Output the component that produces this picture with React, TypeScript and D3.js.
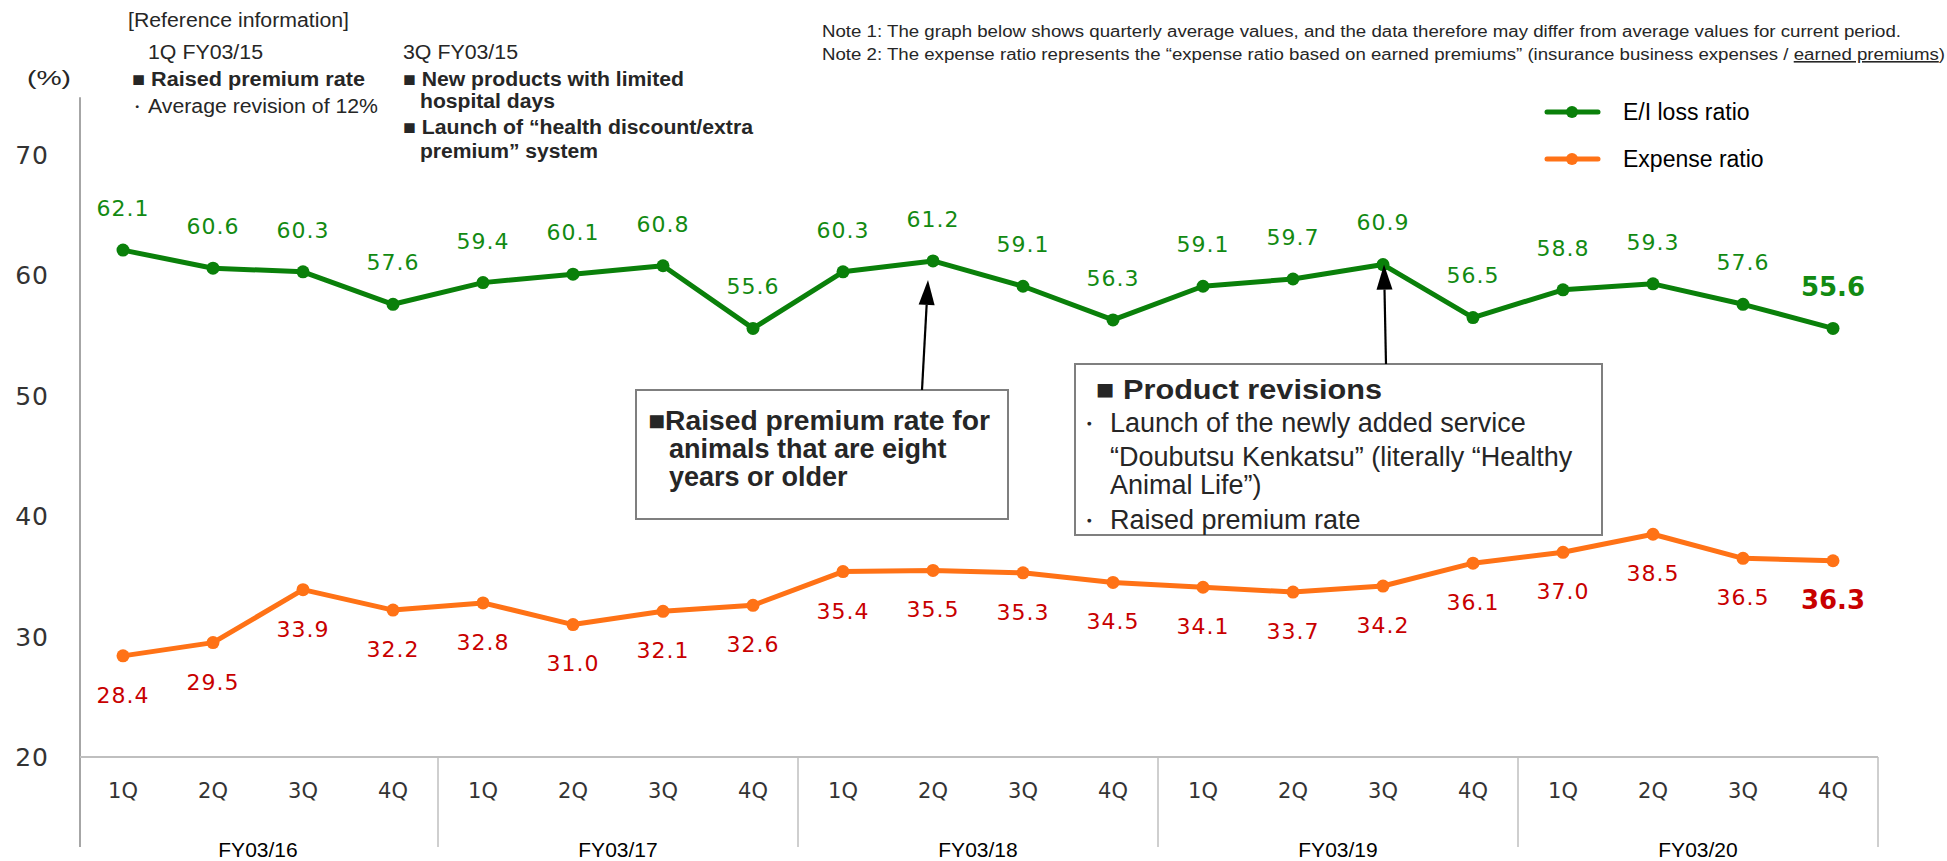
import React from 'react';
import * as d3 from 'd3';

const years = ['FY03/16', 'FY03/17', 'FY03/18', 'FY03/19', 'FY03/20'];
const quarters = ['1Q', '2Q', '3Q', '4Q'];
const lossRatio = [62.1, 60.6, 60.3, 57.6, 59.4, 60.1, 60.8, 55.6, 60.3, 61.2, 59.1, 56.3, 59.1, 59.7, 60.9, 56.5, 58.8, 59.3, 57.6, 55.6];
const expenseRatio = [28.4, 29.5, 33.9, 32.2, 32.8, 31.0, 32.1, 32.6, 35.4, 35.5, 35.3, 34.5, 34.1, 33.7, 34.2, 36.1, 37.0, 38.5, 36.5, 36.3];
const yTicks = [20, 30, 40, 50, 60, 70];
const seriesNames = ['E/I loss ratio', 'Expense ratio'];

const GREEN = '#0a800a';
const GREEN_LABEL = '#128a12';
const ORANGE = '#ff7216';
const RED_LABEL = '#c80000';
const TXT = '#262626';
const ARIAL = "'Liberation Sans', Arial, sans-serif";
const VERD = "'DejaVu Sans', Verdana, sans-serif";

function Arrow({ x1, y1, x2, y2 }: { x1: number; y1: number; x2: number; y2: number }) {
  const dx = x2 - x1, dy = y2 - y1;
  const len = Math.hypot(dx, dy);
  const ux = dx / len, uy = dy / len;
  const hl = 25, hw = 8;
  const bx = x2 - ux * hl, by = y2 - uy * hl;
  const px = -uy, py = ux;
  const pts = `${x2},${y2} ${bx + px * hw},${by + py * hw} ${bx - px * hw},${by - py * hw}`;
  return (
    <g>
      <line x1={x1} y1={y1} x2={bx} y2={by} stroke="#000" strokeWidth={2.2} />
      <polygon points={pts} fill="#000" />
    </g>
  );
}

export default function App() {
  const W = 1947, H = 861;
  const cats = years.flatMap((yr) => quarters.map((q) => `${q} ${yr}`));
  const x = d3.scaleBand<string>().domain(cats).range([78, 1878]);
  const y = d3.scaleLinear().domain([20, 70]).range([757, 155]);
  const bw = x.bandwidth();
  const cx = (i: number) => (x(cats[i]) as number) + bw / 2;
  const line = d3.line<number>().x((_, i) => cx(i)).y((d) => y(d));
  const axisTop = y(74.8);
  const axisBottom = 847;
  const last = lossRatio.length - 1;

  return (
    <svg width={W} height={H} style={{ position: 'absolute', left: 0, top: 0, background: '#fff' }} xmlns="http://www.w3.org/2000/svg">
      <rect x={0} y={0} width={W} height={H} fill="#fff" />

      {/* Notes */}
      <text x={822} y={37} fontFamily={ARIAL} fontSize={16} fill={TXT} textLength={1079} lengthAdjust="spacingAndGlyphs">
        Note 1: The graph below shows quarterly average values, and the data therefore may differ from average values for current period.
      </text>
      <text x={822} y={60} fontFamily={ARIAL} fontSize={16} fill={TXT} textLength={1123} lengthAdjust="spacingAndGlyphs">
        Note 2: The expense ratio represents the “expense ratio based on earned premiums” (insurance business expenses / <tspan textDecoration="underline" style={{ textDecoration: 'underline' }}>earned premiums</tspan>)
      </text>

      {/* Top-left reference information */}
      <g fontFamily={ARIAL} fill={TXT} fontSize={20}>
        <text x={128} y={27} textLength={221} lengthAdjust="spacingAndGlyphs">[Reference information]</text>
        <text x={148} y={59} textLength={115} lengthAdjust="spacingAndGlyphs">1Q FY03/15</text>
        <text x={132} y={86} fontWeight="bold" textLength={233} lengthAdjust="spacingAndGlyphs">■ Raised premium rate</text>
        <text x={128} y={113} fontSize={18}>・</text>
        <text x={148} y={113} textLength={230} lengthAdjust="spacingAndGlyphs">Average revision of 12%</text>
        <text x={403} y={59} textLength={115} lengthAdjust="spacingAndGlyphs">3Q FY03/15</text>
        <text x={403} y={86} fontWeight="bold" textLength={281} lengthAdjust="spacingAndGlyphs">■ New products with limited</text>
        <text x={420} y={108} fontWeight="bold" textLength={135} lengthAdjust="spacingAndGlyphs">hospital days</text>
        <text x={403} y={134} fontWeight="bold" textLength={350} lengthAdjust="spacingAndGlyphs">■ Launch of “health discount/extra</text>
        <text x={420} y={158} fontWeight="bold" textLength={178} lengthAdjust="spacingAndGlyphs">premium” system</text>
        <text x={27} y={85} fontSize={21} textLength={44} lengthAdjust="spacingAndGlyphs">(%)</text>
      </g>

      {/* Legend */}
      {[GREEN, ORANGE].map((c, k) => (
        <g key={k} transform={`translate(0, ${112 + k * 47})`}>
          <line x1={1547} x2={1598} y1={0} y2={0} stroke={c} strokeWidth={5} strokeLinecap="round" />
          <circle cx={1572} cy={0} r={6} fill={c} />
          <text x={1623} y={8} fontFamily={ARIAL} fontSize={23} fill="#000">{seriesNames[k]}</text>
        </g>
      ))}

      {/* Axes */}
      <line x1={80} x2={80} y1={axisTop} y2={axisBottom} stroke="#a6a6a6" strokeWidth={2} />
      <line x1={80} x2={1878} y1={y(20)} y2={y(20)} stroke="#bfbfbf" strokeWidth={2} />
      {years.map((yr, k) => {
        const xe = (x(cats[k * 4 + 3]) as number) + bw;
        return <line key={yr} x1={xe} x2={xe} y1={y(20)} y2={axisBottom} stroke="#bfbfbf" strokeWidth={1.5} />;
      })}
      {yTicks.map((t) => (
        <text key={t} x={49} y={y(t)} dy="0.36em" textAnchor="end" fontFamily={VERD} fontSize={25} letterSpacing={1} fill="#333">{t}</text>
      ))}
      {cats.map((c, i) => (
        <text key={c} x={cx(i)} y={790} dy="0.36em" textAnchor="middle" fontFamily={VERD} fontSize={21} fill="#333">{quarters[i % 4]}</text>
      ))}
      {years.map((yr, k) => {
        const xs = x(cats[k * 4]) as number;
        return <text key={yr} x={xs + bw * 2} y={857} textAnchor="middle" fontFamily={ARIAL} fontSize={21} fill="#000">{yr}</text>;
      })}

      {/* Series */}
      <path d={line(lossRatio) as string} fill="none" stroke={GREEN} strokeWidth={5} strokeLinejoin="round" />
      <path d={line(expenseRatio) as string} fill="none" stroke={ORANGE} strokeWidth={5} strokeLinejoin="round" />
      {lossRatio.map((v, i) => <circle key={'g' + i} cx={cx(i)} cy={y(v)} r={6.5} fill={GREEN} />)}
      {expenseRatio.map((v, i) => <circle key={'o' + i} cx={cx(i)} cy={y(v)} r={6.5} fill={ORANGE} />)}

      {lossRatio.map((v, i) => (
        <text key={'gl' + i} x={cx(i)} y={y(v) - 42} dy="0.36em" textAnchor="middle" fontFamily={VERD}
          fontSize={i === last ? 26 : 22} fontWeight={i === last ? 'bold' : 'normal'} letterSpacing={i === last ? 0 : 1} fill={GREEN_LABEL}>
          {v.toFixed(1)}
        </text>
      ))}
      {expenseRatio.map((v, i) => (
        <text key={'ol' + i} x={cx(i)} y={y(v) + 39} dy="0.36em" textAnchor="middle" fontFamily={VERD}
          fontSize={i === last ? 26 : 22} fontWeight={i === last ? 'bold' : 'normal'} letterSpacing={i === last ? 0 : 1} fill={RED_LABEL}>
          {v.toFixed(1)}
        </text>
      ))}

      {/* Annotation box 1 */}
      <rect x={636} y={390} width={372} height={129} fill="#fff" stroke="#7f7f7f" strokeWidth={2} />
      <g fontFamily={ARIAL} fontWeight="bold" fontSize={27} fill={TXT}>
        <text x={648} y={430} textLength={342} lengthAdjust="spacingAndGlyphs">■Raised premium rate for</text>
        <text x={669} y={458}>animals that are eight</text>
        <text x={669} y={486}>years or older</text>
      </g>
      <Arrow x1={cx(9) - 11} y1={390} x2={cx(9) - 5} y2={y(lossRatio[9]) + 19} />

      {/* Annotation box 2 */}
      <rect x={1075} y={364} width={527} height={171} fill="#fff" stroke="#7f7f7f" strokeWidth={2} />
      <g fontFamily={ARIAL} fontSize={27} fill={TXT}>
        <text x={1096} y={399} fontWeight="bold" fontSize={28} textLength={286} lengthAdjust="spacingAndGlyphs">■ Product revisions</text>
        <text x={1077} y={432} fontSize={24}>・</text>
        <text x={1110} y={432}>Launch of the newly added service</text>
        <text x={1110} y={466}>“Doubutsu Kenkatsu” (literally “Healthy</text>
        <text x={1110} y={494}>Animal Life”)</text>
        <text x={1077} y={529} fontSize={24}>・</text>
        <text x={1110} y={529}>Raised premium rate</text>
      </g>
      <Arrow x1={cx(14) + 3} y1={364} x2={cx(14) + 1} y2={y(lossRatio[14])} />
    </svg>
  );
}
